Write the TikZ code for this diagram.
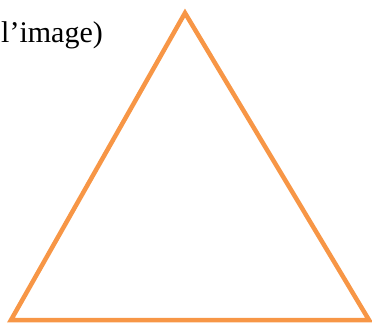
\documentclass[tikz,border=0pt]{standalone}
\usepackage{fontspec}
\setmainfont{Liberation Serif}
\usetikzlibrary{positioning}
\definecolor{triorange}{HTML}{F79646}

\begin{document}
\begin{tikzpicture}[
    x=1pt, y=1pt,
    % Styles
    caption text/.style={font=\fontsize{30}{35}\selectfont, inner sep=0pt, anchor=base west},
    tri line/.style={draw=triorange, line width=4.5pt, line join=miter}
]

% Frame of the picture
\useasboundingbox (0,0) rectangle (372,324);

% Caption (cut off on the left)
\node[caption text] (caption) at (1,281) {l’image)};

% Triangle corners
\coordinate (apex) at (185,311);
\coordinate (left) at (11,4);
\coordinate (right) at (369,4);

% Triangle
\draw[tri line] (apex) -- (left) -- (right) -- cycle;

\end{tikzpicture}
\end{document}
